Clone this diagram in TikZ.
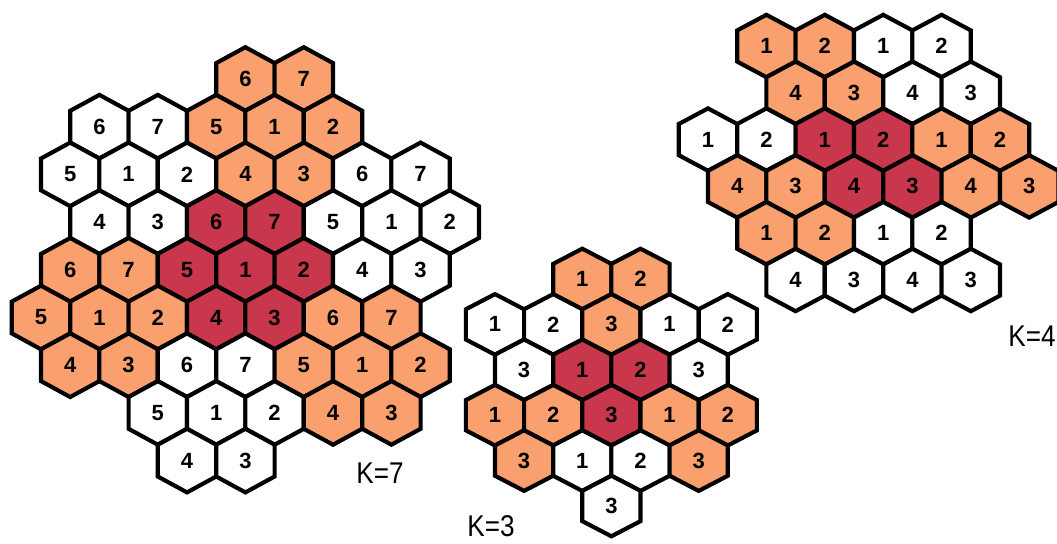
\documentclass[tikz,border=0pt]{standalone}
\usepackage{fontspec}
\setsansfont{Liberation Sans}
\definecolor{org}{RGB}{250,160,110}
\definecolor{crim}{RGB}{200,55,75}
\tikzset{
  cell/.style={draw=black, line width=3.1pt, line join=miter},
  num/.style={font=\sffamily\bfseries\fontsize{16.5pt}{16.5pt}\selectfont, inner sep=0pt},
  klabel/.style={font=\sffamily\fontsize{22.5pt}{22.5pt}\selectfont, inner sep=0pt, xscale=0.87}
}
\begin{document}
\begin{tikzpicture}[x=0.75pt,y=-0.75pt]
\useasboundingbox (0,0) rectangle (1057,543);
% K=7 cluster
\foreach \q/\r/\c/\t [count=\i] in {
 7/0/org/6, 9/0/org/7,
 2/1/white/6, 4/1/white/7, 6/1/org/5, 8/1/org/1, 10/1/org/2,
 1/2/white/5, 3/2/white/1, 5/2/white/2, 7/2/org/4, 9/2/org/3, 11/2/white/6, 13/2/white/7,
 2/3/white/4, 4/3/white/3, 6/3/crim/6, 8/3/crim/7, 10/3/white/5, 12/3/white/1, 14/3/white/2,
 1/4/org/6, 3/4/org/7, 5/4/crim/5, 7/4/crim/1, 9/4/crim/2, 11/4/white/4, 13/4/white/3,
 0/5/org/5, 2/5/org/1, 4/5/org/2, 6/5/crim/4, 8/5/crim/3, 10/5/org/6, 12/5/org/7,
 1/6/org/4, 3/6/org/3, 5/6/white/6, 7/6/white/7, 9/6/org/5, 11/6/org/1, 13/6/org/2,
 4/7/white/5, 6/7/white/1, 8/7/white/2, 10/7/org/4, 12/7/org/3,
 5/8/white/4, 7/8/white/3}{
  \pgfmathsetmacro\X{41+29.2*\q}
  \pgfmathsetmacro\Y{79+47.7*\r}
  \draw[cell, fill=\c, shift={(\X,\Y)}] (0,-31.8) -- (29.2,-15.9) -- (29.2,15.9) -- (0,31.8) -- (-29.2,15.9) -- (-29.2,-15.9) -- cycle;
  \node[num] (sevenc\i) at (\X,\Y) {\t};
}
% K=3 cluster
\foreach \q/\r/\c/\t [count=\i] in {
 3/0/org/1, 5/0/org/2,
 0/1/white/1, 2/1/white/2, 4/1/org/3, 6/1/white/1, 8/1/white/2,
 1/2/white/3, 3/2/crim/1, 5/2/crim/2, 7/2/white/3,
 0/3/org/1, 2/3/org/2, 4/3/crim/3, 6/3/org/1, 8/3/org/2,
 1/4/org/3, 3/4/white/1, 5/4/white/2, 7/4/org/3,
 4/5/white/3}{
  \pgfmathsetmacro\X{495+29.1*\q}
  \pgfmathsetmacro\Y{279+45.4*\r}
  \draw[cell, fill=\c, shift={(\X,\Y)}] (0,-30.3) -- (29.1,-15.15) -- (29.1,15.15) -- (0,30.3) -- (-29.1,15.15) -- (-29.1,-15.15) -- cycle;
  \node[num] (threec\i) at (\X,\Y) {\t};
}
% K=4 cluster
\foreach \q/\r/\c/\t [count=\i] in {
 2/0/org/1, 4/0/org/2, 6/0/white/1, 8/0/white/2,
 3/1/org/4, 5/1/org/3, 7/1/white/4, 9/1/white/3,
 0/2/white/1, 2/2/white/2, 4/2/crim/1, 6/2/crim/2, 8/2/org/1, 10/2/org/2,
 1/3/org/4, 3/3/org/3, 5/3/crim/4, 7/3/crim/3, 9/3/org/4, 11/3/org/3,
 2/4/org/1, 4/4/org/2, 6/4/white/1, 8/4/white/2,
 3/5/white/4, 5/5/white/3, 7/5/white/4, 9/5/white/3}{
  \pgfmathsetmacro\X{708+29.2*\q}
  \pgfmathsetmacro\Y{46+46.8*\r}
  \draw[cell, fill=\c, shift={(\X,\Y)}] (0,-31.2) -- (29.2,-15.6) -- (29.2,15.6) -- (0,31.2) -- (-29.2,15.6) -- (-29.2,-15.6) -- cycle;
  \node[num] (fourc\i) at (\X,\Y) {\t};
}
\node[klabel] (kseven) at (380,473) {K=7};
\node[klabel] (kthree) at (491,526) {K=3};
\node[klabel] (kfour) at (1032,336) {K=4};
\end{tikzpicture}
\end{document}
